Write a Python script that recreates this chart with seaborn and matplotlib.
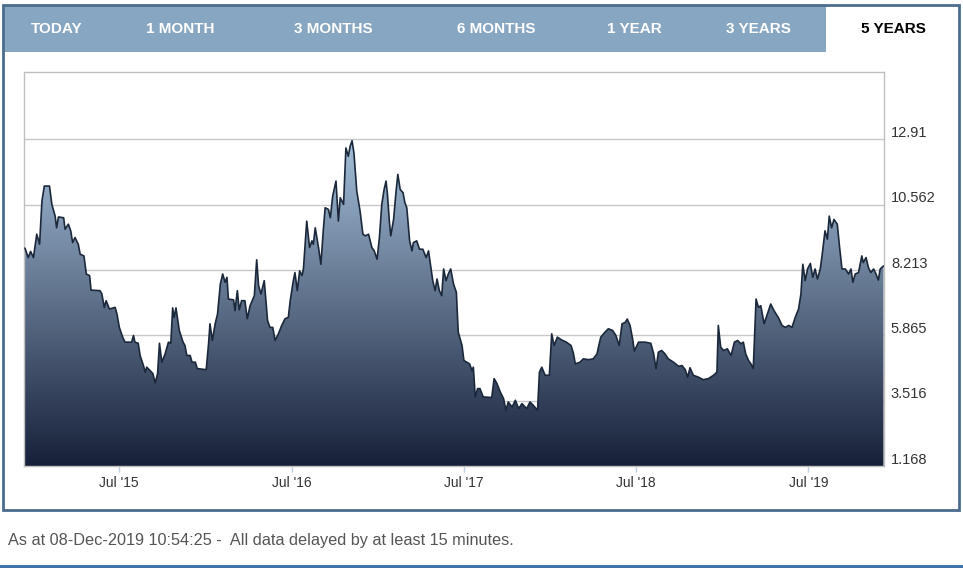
import numpy as np
import pandas as pd
import matplotlib
matplotlib.use("Agg")
import matplotlib.pyplot as plt
import matplotlib.dates as mdates
from matplotlib.colors import LinearSegmentedColormap
from matplotlib.patches import Rectangle
from matplotlib.transforms import ScaledTranslation
import seaborn as sns

# ------------------------------------------
# DATA
# ------------------------------------------

START = pd.Timestamp("2014-12-08")

# days since START
DAYS = [
    6, 13, 18, 24, 31, 37, 42, 47, 58, 63, 70, 73, 77, 88, 91, 98, 103, 107,
    112, 119, 123, 131, 136, 143, 146, 165, 169, 174, 178, 185, 197, 201, 206,
    213, 218, 232, 236, 239, 246, 250, 257, 261, 264, 271, 277, 282, 287, 291,
    296, 303, 310, 315, 319, 322, 326, 333, 341, 345, 349, 356, 360, 367, 371,
    390, 395, 398, 403, 409, 414, 420, 425, 430, 434, 437, 448, 451, 456, 460,
    465, 472, 477, 483, 492, 497, 501, 506, 513, 520, 525, 531, 536, 543, 550,
    557, 564, 568, 574, 578, 583, 588, 593, 596, 603, 609, 614, 617, 621, 628,
    633, 638, 642, 649, 653, 658, 665, 670, 674, 681, 686, 691, 695, 699, 703,
    709, 716, 722, 727, 734, 741, 746, 752, 757, 762, 767, 771, 774, 778, 781,
    787, 792, 796, 801, 807, 811, 815, 821, 826, 829, 836, 842, 849, 856, 861,
    866, 870, 875, 879, 884, 889, 893, 898, 903, 908, 914, 920, 924, 932, 936,
    942, 948, 953, 956, 960, 965, 970, 977, 995, 1000, 1006, 1013, 1020, 1025,
    1030, 1038, 1045, 1052, 1059, 1069, 1076, 1083, 1092, 1096, 1101, 1108,
    1117, 1122, 1127, 1134, 1143, 1153, 1163, 1168, 1172, 1182, 1189, 1200,
    1210, 1218, 1221, 1226, 1235, 1242, 1251, 1258, 1265, 1271, 1278, 1282,
    1288, 1294, 1297, 1306, 1320, 1332, 1338, 1343, 1348, 1355, 1362, 1369,
    1380, 1391, 1398, 1405, 1410, 1415, 1422, 1433, 1443, 1454, 1465, 1472,
    1475, 1480, 1486, 1494, 1502, 1509, 1516, 1523, 1528, 1533, 1539, 1544,
    1549, 1555, 1560, 1565, 1572, 1579, 1586, 1593, 1602, 1610, 1617, 1624,
    1631, 1638, 1645, 1650, 1654, 1659, 1664, 1670, 1675, 1680, 1685, 1691,
    1696, 1701, 1706, 1710, 1715, 1720, 1727, 1732, 1737, 1744, 1751, 1756,
    1760, 1765, 1772, 1779, 1782, 1788, 1793, 1798, 1804, 1809, 1814, 1818,
    1825,
]

PRICES = [
    9.00, 8.66, 8.88, 8.66, 9.50, 9.14, 10.69, 11.23, 11.23, 10.57, 10.15, 9.73,
    10.12, 10.09, 9.68, 9.86, 9.62, 9.20, 9.38, 9.14, 8.78, 8.72, 8.07, 8.01,
    7.49, 7.47, 7.35, 6.87, 7.11, 6.81, 6.87, 6.63, 6.15, 5.80, 5.62, 5.62,
    5.86, 5.62, 5.58, 5.14, 4.78, 4.54, 4.72, 4.60, 4.49, 4.15, 4.49, 5.58,
    4.90, 5.20, 5.62, 5.58, 6.85, 6.51, 6.85, 6.04, 5.62, 5.50, 5.14, 5.14,
    4.90, 4.90, 4.67, 4.63, 5.56, 6.28, 5.68, 6.28, 6.63, 7.71, 8.07, 7.77,
    7.95, 7.17, 7.14, 6.75, 7.47, 6.78, 7.11, 7.11, 6.46, 6.93, 7.29, 8.58,
    7.65, 7.35, 7.83, 6.40, 6.15, 6.15, 5.68, 5.92, 6.22, 6.46, 6.51, 7.11,
    7.77, 8.12, 7.47, 8.18, 8.01, 8.25, 9.97, 9.02, 9.26, 9.14, 9.73, 9.02,
    8.42, 9.62, 10.45, 10.39, 10.09, 10.87, 11.41, 9.97, 10.81, 10.57, 12.60,
    12.30, 12.66, 12.86, 12.42, 11.05, 10.33, 9.50, 9.44, 9.50, 9.02, 8.90,
    8.60, 9.38, 10.57, 11.11, 11.41, 10.93, 9.97, 9.44, 10.03, 10.99, 11.65,
    11.11, 10.99, 10.63, 10.45, 9.26, 8.90, 9.20, 9.26, 8.96, 8.96, 8.66, 8.90,
    8.30, 7.83, 7.47, 7.89, 7.47, 7.29, 8.25, 7.83, 8.07, 8.25, 7.71, 7.41,
    5.98, 5.50, 4.96, 4.90, 4.84, 4.60, 4.72, 3.65, 3.95, 3.95, 3.65, 3.63,
    4.31, 4.13, 3.83, 3.59, 3.17, 3.47, 3.29, 3.53, 3.23, 3.41, 3.23, 3.47,
    3.35, 3.17, 4.54, 4.72, 4.43, 4.43, 5.92, 5.50, 5.80, 5.70, 5.62, 5.50,
    5.22, 4.84, 4.90, 5.02, 4.99, 5.02, 5.20, 5.44, 5.80, 5.98, 6.10, 6.04,
    5.86, 5.50, 6.28, 6.33, 6.45, 6.22, 5.68, 5.30, 5.62, 5.62, 5.58, 5.20,
    4.67, 5.26, 5.32, 5.20, 5.02, 4.90, 4.75, 4.78, 4.63, 4.36, 4.70, 4.43,
    4.36, 4.27, 4.31, 4.43, 4.54, 6.22, 5.44, 5.32, 5.38, 5.14, 5.62, 5.68,
    5.56, 5.62, 5.20, 4.96, 4.84, 4.67, 7.17, 6.87, 6.93, 6.28, 6.63, 6.99,
    6.75, 6.51, 6.22, 6.15, 6.22, 6.15, 6.51, 6.81, 7.35, 8.42, 7.83, 8.25,
    8.45, 7.95, 8.25, 7.89, 8.25, 8.90, 9.62, 9.32, 10.15, 9.73, 10.03, 9.86,
    9.02, 8.25, 8.25, 8.07, 8.25, 7.77, 8.07, 8.12, 8.72, 8.48, 8.66, 8.30,
    8.12, 8.25, 8.07, 7.85, 8.25, 8.36,
]

Y_TICKS = [1.168, 3.516, 5.865, 8.213, 10.562, 12.91]
Y_LABELS = ["1.168", "3.516", "5.865", "8.213", "10.562", "12.91"]

X_TICKS = ["2015-07-01", "2016-07-01", "2017-07-01", "2018-07-01", "2019-07-01"]
X_LABELS = ["Jul '15", "Jul '16", "Jul '17", "Jul '18", "Jul '19"]

TABS = ["TODAY", "1 MONTH", "3 MONTHS", "6 MONTHS", "1 YEAR", "3 YEARS", "5 YEARS"]
FOOTER = "As at 08-Dec-2019 10:54:25 -  All data delayed by at least 15 minutes."

# ------------------------------------------
# LAYOUT (pixels of the 963x568 canvas)
# ------------------------------------------

W, H = 963, 568
TAB_X = [57, 180, 333, 496, 634, 758, 893]


def fx(x):
    return x / W


def fy(y):
    return 1 - y / H


sns.set_theme(style="white")
plt.rcParams["font.family"] = ["Liberation Sans", "DejaVu Sans"]

df = pd.DataFrame({
    "date": START + pd.to_timedelta(DAYS, unit="D"),
    "price": PRICES,
})

fig = plt.figure(figsize=(W / 100, H / 100), dpi=100)
fig.patch.set_facecolor("white")

# panel border + tab strip
fig.patches.append(Rectangle((fx(3), fy(52)), fx(826) - fx(3), fy(5) - fy(52),
                             transform=fig.transFigure, facecolor="#87a6c2",
                             edgecolor="none", zorder=0))
fig.patches.append(Rectangle((fx(3), fy(510)), fx(959) - fx(3), fy(5) - fy(510),
                             transform=fig.transFigure, facecolor="none",
                             edgecolor="#4b6c8e", linewidth=2, zorder=1))
fig.patches.append(Rectangle((0, 0), 1, fy(565),
                             transform=fig.transFigure, facecolor="#3f74ad",
                             edgecolor="none", zorder=1))

for label, x in zip(TABS, TAB_X):
    fig.text(fx(x), fy(29), label, ha="center", va="center",
             fontsize=11, fontweight="bold",
             color="black" if label == "5 YEARS" else "white")

fig.text(fx(8), fy(540), FOOTER, ha="left", va="center",
         fontsize=11.7, color="#555555")

# ------------------------------------------
# CHART
# ------------------------------------------

ax = fig.add_axes([fx(24), fy(466), fx(884) - fx(24), fy(72) - fy(466)])
ax.set_facecolor("white")

y_min = Y_TICKS[0]
y_top = 15.33

poly = ax.fill_between(df["date"], df["price"], y_min,
                       facecolor="none", edgecolor="none")

cmap = LinearSegmentedColormap.from_list("area", ["#172039", "#a4bfd9"])
xnum = mdates.date2num(df["date"])
grad = np.linspace(0, 1, 256).reshape(-1, 1)
im = ax.imshow(grad, aspect="auto", cmap=cmap, origin="lower",
               extent=[xnum[0], xnum[-1], y_min, max(PRICES)], zorder=1)
im.set_clip_path(poly.get_paths()[0], ax.transData)

sns.lineplot(data=df, x="date", y="price", ax=ax,
             color="#1b283b", linewidth=1.2, zorder=3)

ax.set_xlim(START + pd.Timedelta(days=4), START + pd.Timedelta(days=1826))
ax.set_ylim(y_min, y_top)

ax.set_yticks(Y_TICKS)
ax.set_yticklabels(Y_LABELS)
ax.yaxis.tick_right()
ax.set_xticks(pd.to_datetime(X_TICKS))
ax.set_xticklabels(X_LABELS)

ax.grid(axis="y", color="#c8c8c8", linewidth=1)
ax.grid(axis="x", visible=False)
ax.set_axisbelow(True)

ax.tick_params(axis="y", length=0, pad=5, labelsize=10.5, labelcolor="#333333")
ax.tick_params(axis="x", bottom=True, length=4, width=1, color="#c0d0e0",
               pad=3, labelsize=10, labelcolor="#333333")

# y labels sit just above their grid lines
lift = ScaledTranslation(0, 8 / 100, fig.dpi_scale_trans)
for lab in ax.get_yticklabels():
    lab.set_transform(lab.get_transform() + lift)

ax.set_xlabel("")
ax.set_ylabel("")

for spine in ax.spines.values():
    spine.set_visible(True)
    spine.set_color("#c0c0c0")
    spine.set_linewidth(1)

fig.savefig("out.png", dpi=100)
